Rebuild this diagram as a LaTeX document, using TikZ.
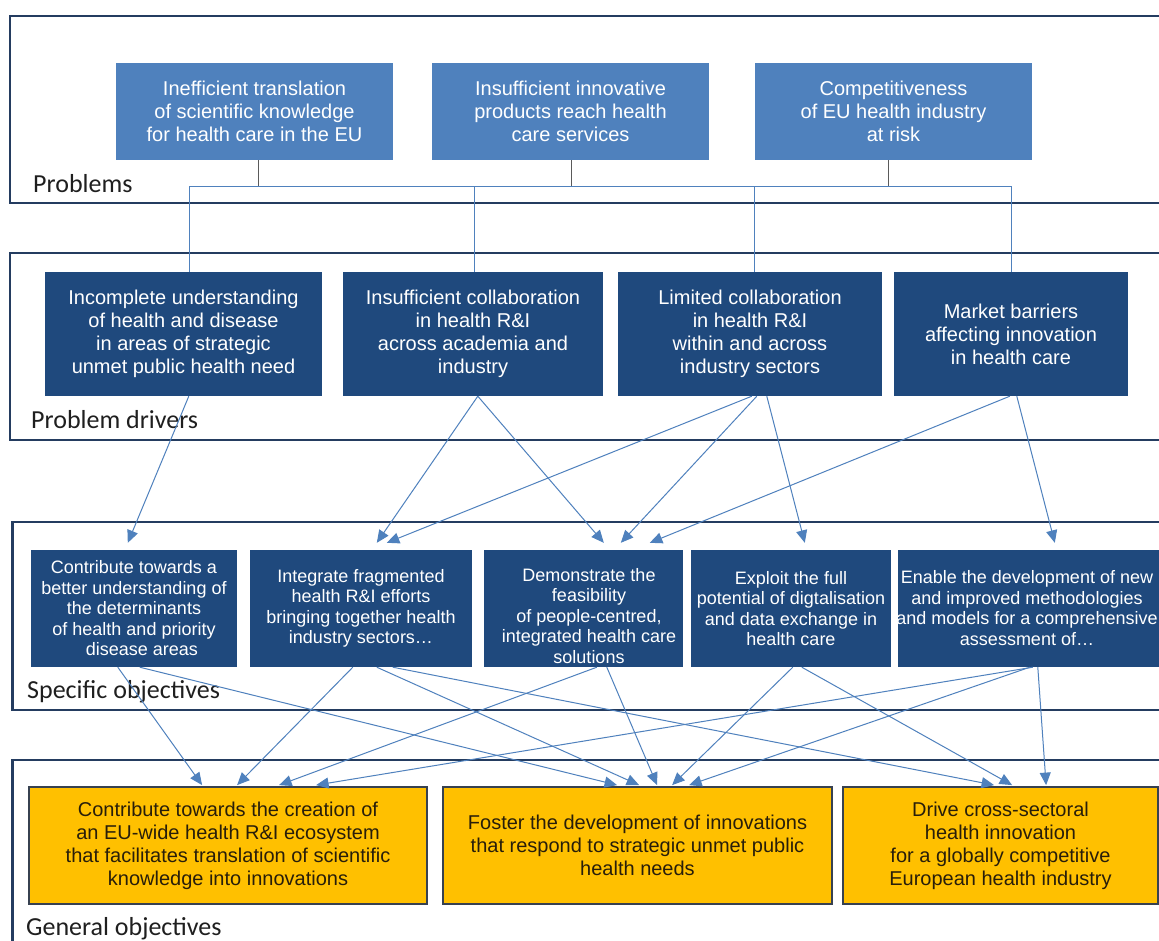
\documentclass[tikz,border=0pt]{standalone}
\usepackage{fontspec}
\setmainfont{Liberation Sans}
\newfontfamily\calib{Carlito}
\usetikzlibrary{arrows.meta}
\definecolor{pblue}{RGB}{79,129,189}
\definecolor{dblue}{RGB}{31,73,125}
\definecolor{frame}{RGB}{36,60,96}
\definecolor{gold}{RGB}{255,192,0}
\definecolor{goline}{RGB}{55,65,80}
\definecolor{gotext}{RGB}{40,30,10}
\definecolor{busgray}{RGB}{90,90,90}
\begin{document}
\begin{tikzpicture}[x=1pt,y=-1pt,
  secframe/.style={draw=frame,line width=2.2pt},
  seclabel/.style={font=\calib\fontsize{26}{30}\selectfont,anchor=base west,inner sep=0pt,text=black!88},
  boxbase/.style={rectangle,inner sep=0pt,align=center,text=white},
  pbox/.style={boxbase,fill=pblue,font=\fontsize{20}{23}\selectfont},
  dbox/.style={boxbase,fill=dblue,font=\fontsize{20}{23}\selectfont},
  sbox/.style={boxbase,fill=dblue,font=\fontsize{18}{20.5}\selectfont},
  stext/.style={inner sep=0pt,align=center,text=white,font=\fontsize{18}{20.5}\selectfont},
  gbox/.style={boxbase,fill=gold,draw=goline,line width=1.8pt,text=gotext,font=\fontsize{20}{23}\selectfont},
  conn/.style={draw=pblue,line width=1pt,-{Triangle[length=12.5pt,width=11pt]}},
  bus/.style={draw=pblue,line width=1pt},
  stub/.style={draw=busgray,line width=1pt}]
\useasboundingbox (0,0) rectangle (1159,940);
\fill[white] (0,0) rectangle (1159,940);
\clip (0,0) rectangle (1159,940);

% section frames
\draw[secframe] (10,16) rectangle (1185,203);
\draw[secframe] (10,253) rectangle (1185,440);
\draw[secframe] (12.5,522) rectangle (1185,710);
\draw[secframe] (12.5,760) rectangle (1185,990);

\node[seclabel] (lp) at (33,192) {Problems};
\node[seclabel] (lpd) at (31,428) {Problem drivers};
\node[seclabel] (lso) at (27,698) {Specific objectives};
\node[seclabel] (lgo) at (26,935) {General objectives};

% problems
\node[pbox,minimum width=277pt,minimum height=97pt] (p1) at (254.5,111.5) {Inefficient translation\\of scientific knowledge\\for health care in the EU};
\node[pbox,minimum width=277pt,minimum height=97pt] (p2) at (570.5,111.5) {Insufficient innovative\\products reach health\\care services};
\node[pbox,minimum width=277pt,minimum height=97pt] (p3) at (893.5,111.5) {Competitiveness\\of EU health industry\\at risk};

% problem drivers
\node[dbox,minimum width=277pt,minimum height=124pt] (pd1) at (183.5,334) {Incomplete understanding\\of health and disease\\in areas of strategic\\unmet public health need};
\node[dbox,minimum width=260pt,minimum height=124pt] (pd2) at (473,334) {Insufficient collaboration\\in health R\&I\\across academia and\\industry};
\node[dbox,minimum width=264pt,minimum height=124pt] (pd3) at (750,334) {Limited collaboration\\in health R\&I\\within and across\\industry sectors};
\node[dbox,minimum width=234pt,minimum height=124pt] (pd4) at (1011,334) {Market barriers\\affecting innovation\\in health care};

% specific objectives
\node[sbox,minimum width=206pt,minimum height=117pt] (so1) at (134,608.5) {Contribute towards a\\better understanding of\\the determinants\\of health and priority\\\hspace*{16pt}disease areas};
\node[sbox,minimum width=222pt,minimum height=117pt] (so2) at (361,608.5) {Integrate fragmented\\health R\&I efforts\\bringing together health\\industry sectors…};
\node[sbox,minimum width=199pt,minimum height=117pt] (so3) at (583.5,608.5) {};
\node[stext] (so3t) at (589,616) {Demonstrate the\\feasibility\\of people-centred,\\integrated health care\\solutions};
\node[sbox,minimum width=200pt,minimum height=117pt] (so4) at (791,608.5) {Exploit the full\\potential of digtalisation\\and data exchange in\\health care};
\node[sbox,minimum width=267pt,minimum height=117pt] (so5) at (1031.5,608.5) {};
\node[stext] (so5t) at (1027,608) {Enable the development of new\\and improved methodologies\\and models for a comprehensive\\assessment of…};

% general objectives
\node[gbox,minimum width=398pt,minimum height=117pt] (go1) at (228,845.5) {Contribute towards the creation of\\an EU-wide health R\&I ecosystem\\that facilitates translation of scientific\\knowledge into innovations};
\node[gbox,minimum width=389pt,minimum height=117pt] (go2) at (637.5,845.5) {Foster the development of innovations\\that respond to strategic unmet public\\health needs};
\node[gbox,minimum width=315pt,minimum height=117pt] (go3) at (1000.5,845.5) {Drive cross-sectoral\\health innovation\\for a globally competitive\\European health industry};

% bus from problems to drivers
\coordinate (busA) at (189,186);
\coordinate (busB) at (474,186);
\coordinate (busC) at (754,186);
\coordinate (busD) at (1011,186);
\coordinate (t1) at ([xshift=3.5pt]p1.south);
\coordinate (t2) at ([xshift=0.5pt]p2.south);
\coordinate (t3) at ([xshift=-5.5pt]p3.south);
\draw[stub] (t1) -- (t1 |- busA);
\draw[stub] (t2) -- (t2 |- busA);
\draw[stub] (t3) -- (t3 |- busA);
\draw[bus] (busA) -- (busD);
\draw[bus] (busA) -- (busA |- pd1.north);
\draw[bus] (busB) -- (busB |- pd2.north);
\draw[bus] (busC) -- (busC |- pd3.north);
\draw[bus] (busD) -- (busD |- pd4.north);

% drivers to specific objectives
\draw[conn] ([xshift=144pt]pd1.south west) -- ([xshift=97pt,yshift=7pt]so1.north west);
\draw[conn] ([xshift=135pt]pd2.south west) -- ([xshift=127pt,yshift=7pt]so2.north west);
\draw[conn] ([xshift=135pt]pd2.south west) -- ([xshift=120pt,yshift=7pt]so3.north west);
\draw[conn] ([xshift=134pt]pd3.south west) -- ([xshift=137pt,yshift=7pt]so2.north west);
\draw[conn] ([xshift=139pt]pd3.south west) -- ([xshift=137pt,yshift=7pt]so3.north west);
\draw[conn] ([xshift=149pt]pd3.south west) -- ([xshift=114pt,yshift=7pt]so4.north west);
\draw[conn] ([xshift=116pt]pd4.south west) -- ([xshift=166pt,yshift=7pt]so3.north west);
\draw[conn] ([xshift=123pt]pd4.south west) -- ([xshift=157pt,yshift=7pt]so5.north west);

% specific to general objectives
\draw[conn] ([xshift=87pt]so1.south west) -- ([xshift=174pt,yshift=1pt]go1.north west);
\draw[conn] ([xshift=109pt]so1.south west) -- ([xshift=175pt,yshift=1pt]go2.north west);
\draw[conn] ([xshift=103pt]so2.south west) -- ([xshift=209pt,yshift=1pt]go1.north west);
\draw[conn] ([xshift=127pt]so2.south west) -- ([xshift=197pt,yshift=1pt]go2.north west);
\draw[conn] ([xshift=143pt]so2.south west) -- ([xshift=152pt,yshift=1pt]go3.north west);
\draw[conn] ([xshift=113pt]so3.south west) -- ([xshift=251pt,yshift=1pt]go1.north west);
\draw[conn] ([xshift=123pt]so3.south west) -- ([xshift=215pt,yshift=1pt]go2.north west);
\draw[conn] ([xshift=102pt]so4.south west) -- ([xshift=230pt,yshift=1pt]go2.north west);
\draw[conn] ([xshift=111pt]so4.south west) -- ([xshift=170pt,yshift=1pt]go3.north west);
\draw[conn] ([xshift=135pt]so5.south west) -- ([xshift=288pt,yshift=1pt]go1.north west);
\draw[conn] ([xshift=132pt]so5.south west) -- ([xshift=247pt,yshift=1pt]go2.north west);
\draw[conn] ([xshift=140pt]so5.south west) -- ([xshift=204pt,yshift=1pt]go3.north west);
\end{tikzpicture}
\end{document}
